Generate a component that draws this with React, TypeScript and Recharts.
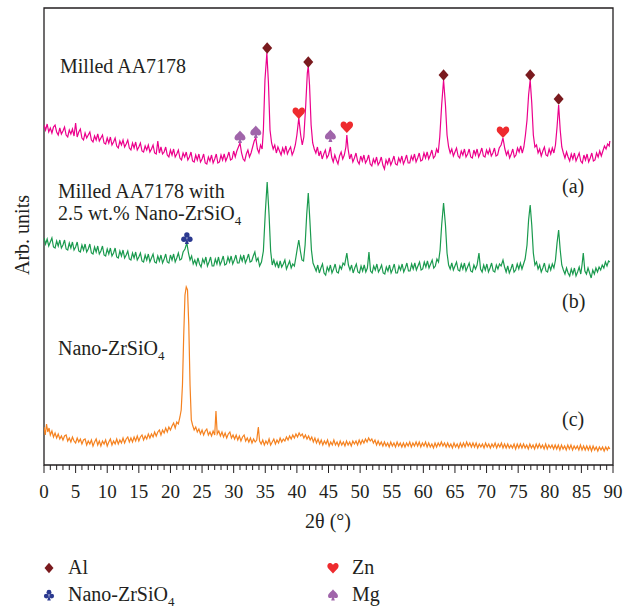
import { ComposedChart, Line, Scatter, XAxis, YAxis, ReferenceArea, Customized } from 'recharts'

// intensities are arbitrary units (traces are stacked with offsets)
const milledAA7178: [number, number][] = [
  [0, 340], [0.25, 335], [0.5, 341], [0.75, 333], [1, 337], [1.25, 332], [1.5, 338], [1.75, 340], [2, 333], [2.25, 330],
  [2.5, 337], [2.75, 331], [3, 334], [3.25, 338], [3.5, 330], [3.75, 328], [4, 335], [4.25, 331], [4.5, 336], [4.75, 329],
  [5, 342], [5.25, 328], [5.5, 333], [5.75, 336], [6, 327], [6.25, 325], [6.5, 332], [6.75, 327], [7, 330], [7.25, 333],
  [7.5, 325], [7.75, 323], [8, 329], [8.25, 325], [8.5, 331], [8.75, 324], [9, 327], [9.25, 330], [9.5, 322], [9.75, 321],
  [10, 327], [10.25, 322], [10.5, 328], [10.75, 320], [11, 323], [11.25, 327], [11.5, 319], [11.75, 317], [12, 324], [12.25, 320],
  [12.5, 325], [12.75, 318], [13, 321], [13.25, 325], [13.5, 317], [13.75, 315], [14, 322], [14.25, 317], [14.5, 323], [14.75, 315],
  [15, 318], [15.25, 322], [15.5, 314], [15.75, 313], [16, 319], [16.25, 315], [16.5, 320], [16.75, 313], [17, 316], [17.25, 320],
  [17.5, 312], [17.75, 311], [18, 324], [18.25, 312], [18.5, 318], [18.75, 311], [19, 313], [19.25, 318], [19.5, 310], [19.75, 308],
  [20, 315], [20.25, 310], [20.5, 316], [20.75, 308], [21, 311], [21.25, 315], [21.5, 307], [21.75, 305], [22, 312], [22.25, 308],
  [22.5, 313], [22.75, 305], [23, 308], [23.25, 313], [23.5, 304], [23.75, 303], [24, 310], [24.25, 305], [24.5, 311], [24.75, 303],
  [25, 306], [25.25, 311], [25.5, 302], [25.75, 301], [26, 308], [26.25, 304], [26.5, 310], [26.75, 302], [27, 306], [27.25, 311],
  [27.5, 302], [27.75, 303], [28, 310], [28.25, 305], [28.5, 311], [28.75, 304], [29, 308], [29.25, 313], [29.5, 305], [29.75, 306],
  [30, 314], [30.25, 308], [30.5, 314], [30.75, 318], [31, 322], [31.25, 312], [31.5, 306], [31.75, 304], [32, 311], [32.25, 315],
  [32.5, 308], [32.75, 312], [33, 318], [33.25, 324], [33.5, 327], [33.75, 316], [34, 312], [34.25, 320], [34.5, 316], [34.7, 335],
  [34.95, 385], [35.25, 412], [35.5, 382], [35.75, 335], [36, 322], [36.25, 316], [36.5, 320], [36.75, 312], [37, 318], [37.25, 314],
  [37.5, 310], [37.75, 317], [38, 312], [38.25, 319], [38.5, 311], [38.75, 315], [39, 318], [39.25, 310], [39.5, 314], [39.75, 320],
  [40, 330], [40.3, 347], [40.6, 330], [40.85, 320], [41.1, 328], [41.4, 360], [41.65, 392], [41.8, 399], [42, 380], [42.25, 340],
  [42.5, 322], [42.75, 316], [43, 312], [43.25, 318], [43.5, 309], [43.75, 314], [44, 306], [44.25, 311], [44.5, 315], [44.75, 307],
  [45, 310], [45.3, 318], [45.5, 308], [45.75, 303], [46, 310], [46.25, 305], [46.5, 301], [46.75, 309], [47, 313], [47.25, 306],
  [47.5, 310], [47.75, 318], [47.9, 330], [48.1, 316], [48.35, 306], [48.6, 311], [48.85, 303], [49.1, 307], [49.35, 312], [49.6, 304],
  [49.85, 301], [50.1, 309], [50.35, 304], [50.6, 310], [50.85, 302], [51.1, 305], [51.35, 310], [51.6, 301], [51.85, 299], [52.1, 306],
  [52.35, 302], [52.6, 308], [52.85, 300], [53.1, 303], [53.35, 308], [53.6, 300], [53.85, 296], [54.1, 305], [54.35, 301], [54.6, 307],
  [54.85, 300], [55.1, 304], [55.35, 309], [55.6, 301], [55.85, 300], [56.1, 307], [56.35, 303], [56.6, 309], [56.85, 301], [57.1, 305],
  [57.35, 310], [57.6, 302], [57.85, 302], [58.1, 309], [58.35, 305], [58.6, 311], [58.85, 303], [59.1, 307], [59.35, 312], [59.6, 304],
  [59.85, 305], [60.1, 312], [60.35, 307], [60.6, 313], [60.85, 306], [61.1, 310], [61.35, 315], [61.6, 307], [61.85, 309], [62.1, 316],
  [62.35, 312], [62.6, 328], [62.9, 360], [63.2, 385], [63.5, 360], [63.75, 330], [64, 318], [64.25, 312], [64.5, 316], [64.75, 309],
  [65, 313], [65.25, 317], [65.5, 309], [65.75, 307], [66, 314], [66.25, 310], [66.5, 316], [66.75, 308], [67, 311], [67.25, 316],
  [67.5, 308], [67.75, 307], [68, 315], [68.25, 310], [68.5, 316], [68.75, 308], [69, 312], [69.25, 317], [69.5, 309], [69.75, 308],
  [70, 315], [70.25, 311], [70.5, 316], [70.75, 309], [71, 312], [71.25, 317], [71.5, 309], [71.75, 310], [72, 317], [72.3, 320],
  [72.6, 327], [72.9, 316], [73.15, 310], [73.4, 314], [73.65, 307], [73.9, 311], [74.15, 316], [74.4, 308], [74.65, 310], [74.9, 317],
  [75.15, 313], [75.4, 319], [75.65, 312], [75.9, 318], [76.15, 330], [76.4, 345], [76.65, 370], [76.9, 385], [77.15, 362], [77.4, 330],
  [77.65, 318], [77.9, 320], [78.15, 312], [78.4, 316], [78.65, 309], [78.9, 314], [79.15, 318], [79.4, 310], [79.65, 309], [79.9, 316],
  [80.15, 311], [80.4, 317], [80.65, 312], [80.9, 320], [81.15, 338], [81.4, 360], [81.65, 335], [81.9, 318], [82.15, 312], [82.4, 307],
  [82.65, 313], [82.9, 308], [83.15, 304], [83.4, 311], [83.65, 306], [83.9, 312], [84.15, 304], [84.4, 308], [84.65, 312], [84.9, 304],
  [85.15, 302], [85.4, 310], [85.65, 305], [85.9, 311], [86.15, 303], [86.4, 307], [86.65, 312], [86.9, 304], [87.15, 305], [87.4, 312],
  [87.65, 308], [87.9, 314], [88.15, 309], [88.4, 314], [88.65, 319], [88.9, 316], [89.15, 321], [89.4, 319], [89.5, 324],
]

const milledWithZrSiO4: [number, number][] = [
  [0, 227], [0.25, 221], [0.5, 226], [0.75, 219], [1, 223], [1.25, 227], [1.5, 218], [1.75, 217], [2, 224], [2.25, 219],
  [2.5, 225], [2.75, 217], [3, 220], [3.25, 225], [3.5, 216], [3.75, 215], [4, 222], [4.25, 217], [4.5, 223], [4.75, 215],
  [5, 218], [5.25, 223], [5.5, 214], [5.75, 213], [6, 220], [6.25, 215], [6.5, 221], [6.75, 213], [7, 216], [7.25, 221],
  [7.5, 212], [7.75, 211], [8, 218], [8.25, 213], [8.5, 219], [8.75, 211], [9, 214], [9.25, 219], [9.5, 210], [9.75, 209],
  [10, 216], [10.25, 211], [10.5, 217], [10.75, 209], [11, 212], [11.25, 217], [11.5, 208], [11.75, 207], [12, 214], [12.25, 209],
  [12.5, 215], [12.75, 207], [13, 210], [13.25, 214], [13.5, 206], [13.75, 205], [14, 212], [14.25, 207], [14.5, 213], [14.75, 205],
  [15, 208], [15.25, 212], [15.5, 204], [15.75, 203], [16, 210], [16.25, 205], [16.5, 211], [16.75, 203], [17, 207], [17.25, 211],
  [17.5, 203], [17.75, 202], [18, 209], [18.25, 204], [18.5, 210], [18.75, 202], [19, 206], [19.25, 211], [19.5, 203], [19.75, 202],
  [20, 210], [20.25, 205], [20.5, 211], [20.75, 203], [21, 207], [21.25, 212], [21.5, 205], [21.75, 206], [22, 213], [22.3, 216],
  [22.6, 222], [22.85, 212], [23.1, 205], [23.35, 209], [23.6, 201], [23.85, 205], [24.1, 200], [24.35, 207], [24.6, 201], [24.85, 198],
  [25.1, 206], [25.35, 202], [25.6, 208], [25.85, 199], [26.1, 203], [26.35, 208], [26.6, 199], [26.85, 199], [27.1, 206], [27.35, 201],
  [27.6, 208], [27.85, 200], [28.1, 204], [28.35, 209], [28.6, 200], [28.85, 201], [29.1, 208], [29.35, 203], [29.6, 209], [29.85, 201],
  [30.1, 205], [30.35, 210], [30.6, 202], [30.85, 202], [31.1, 209], [31.35, 204], [31.6, 210], [31.85, 202], [32.1, 206], [32.35, 211],
  [32.6, 203], [32.85, 204], [33.1, 209], [33.35, 213], [33.6, 204], [33.85, 207], [34.1, 199], [34.4, 203], [34.7, 214], [35, 252],
  [35.3, 283], [35.6, 250], [35.85, 214], [36.1, 200], [36.35, 205], [36.6, 199], [36.85, 203], [37.1, 197], [37.35, 204], [37.6, 198],
  [37.85, 201], [38.1, 205], [38.35, 196], [38.6, 200], [38.85, 204], [39.1, 197], [39.35, 201], [39.6, 199], [39.85, 208], [40.05, 216],
  [40.3, 225], [40.55, 214], [40.8, 205], [41.05, 204], [41.3, 220], [41.55, 250], [41.8, 272], [42.05, 245], [42.3, 215], [42.55, 202],
  [42.8, 198], [43.05, 194], [43.3, 200], [43.55, 192], [43.8, 197], [44.05, 201], [44.3, 192], [44.55, 190], [44.8, 198], [45.05, 194],
  [45.3, 200], [45.55, 192], [45.8, 196], [46.05, 201], [46.3, 193], [46.55, 192], [46.8, 199], [47.05, 196], [47.3, 202], [47.55, 200],
  [47.9, 212], [48.15, 200], [48.4, 195], [48.65, 200], [48.9, 192], [49.15, 197], [49.4, 201], [49.65, 193], [49.9, 192], [50.15, 199],
  [50.4, 194], [50.65, 200], [50.9, 193], [51.15, 197], [51.4, 213], [51.65, 194], [51.9, 192], [52.15, 199], [52.4, 195], [52.65, 201],
  [52.9, 193], [53.15, 196], [53.4, 200], [53.65, 192], [53.9, 191], [54.15, 198], [54.4, 194], [54.65, 200], [54.9, 192], [55.15, 196],
  [55.4, 201], [55.65, 192], [55.9, 192], [56.15, 199], [56.4, 195], [56.65, 201], [56.9, 193], [57.15, 197], [57.4, 202], [57.65, 194],
  [57.9, 194], [58.15, 201], [58.4, 196], [58.65, 202], [58.9, 195], [59.15, 199], [59.4, 203], [59.65, 195], [59.9, 196], [60.15, 203],
  [60.4, 198], [60.65, 204], [60.9, 197], [61.15, 201], [61.4, 205], [61.65, 197], [61.9, 199], [62.15, 206], [62.4, 203], [62.65, 215],
  [62.9, 240], [63.2, 262], [63.5, 240], [63.75, 212], [64, 200], [64.25, 196], [64.5, 202], [64.75, 195], [65, 199], [65.25, 203],
  [65.5, 195], [65.75, 194], [66, 201], [66.25, 196], [66.5, 202], [66.75, 194], [67, 198], [67.25, 202], [67.5, 194], [67.75, 193],
  [68, 200], [68.25, 196], [68.5, 200], [68.8, 212], [69.05, 196], [69.3, 193], [69.55, 200], [69.8, 195], [70.05, 201], [70.3, 193],
  [70.55, 197], [70.8, 202], [71.05, 194], [71.3, 193], [71.55, 200], [71.8, 196], [72.05, 201], [72.3, 199], [72.6, 205], [72.85, 198],
  [73.1, 193], [73.35, 199], [73.6, 192], [73.85, 196], [74.1, 201], [74.35, 193], [74.6, 195], [74.85, 201], [75.1, 196], [75.35, 202],
  [75.6, 196], [75.85, 201], [76.1, 206], [76.4, 220], [76.65, 245], [76.9, 260], [77.15, 240], [77.4, 212], [77.65, 200], [77.9, 203],
  [78.15, 196], [78.4, 200], [78.65, 193], [78.9, 197], [79.15, 202], [79.4, 194], [79.65, 193], [79.9, 200], [80.15, 195], [80.4, 201],
  [80.65, 197], [80.9, 205], [81.15, 222], [81.4, 235], [81.65, 215], [81.9, 200], [82.15, 195], [82.4, 191], [82.65, 197], [82.9, 192],
  [83.15, 189], [83.4, 196], [83.65, 191], [83.9, 197], [84.15, 189], [84.4, 193], [84.65, 198], [84.9, 191], [85.1, 200], [85.3, 212],
  [85.55, 194], [85.8, 191], [86.05, 197], [86.3, 192], [86.55, 187], [86.8, 195], [87.05, 191], [87.3, 197], [87.55, 193], [87.8, 198],
  [88.05, 195], [88.3, 200], [88.55, 197], [88.8, 203], [89.05, 199], [89.3, 204], [89.5, 203],
]

const nanoZrSiO4: [number, number][] = [
  [0, 38], [0.2, 30], [0.4, 41], [0.6, 33], [0.8, 37], [1, 30], [1.25, 34], [1.5, 28], [1.75, 32], [2, 27],
  [2.25, 31], [2.5, 26], [2.75, 29], [3, 25], [3.25, 29], [3.5, 30], [3.75, 24], [4, 27], [4.25, 23], [4.5, 28],
  [4.75, 24], [5, 22], [5.25, 27], [5.5, 23], [5.75, 26], [6, 21], [6.25, 25], [6.5, 26], [6.75, 20], [7, 24],
  [7.25, 21], [7.5, 25], [7.75, 19], [8, 23], [8.25, 26], [8.5, 20], [8.75, 24], [9, 19], [9.25, 24], [9.5, 21],
  [9.75, 25], [10, 19], [10.25, 23], [10.5, 26], [10.75, 20], [11, 24], [11.25, 21], [11.5, 26], [11.75, 21], [12, 25],
  [12.25, 22], [12.5, 27], [12.75, 22], [13, 26], [13.25, 28], [13.5, 23], [13.75, 27], [14, 23], [14.25, 28], [14.5, 24],
  [14.75, 29], [15, 24], [15.25, 28], [15.5, 30], [15.75, 25], [16, 29], [16.25, 26], [16.5, 31], [16.75, 27], [17, 31],
  [17.25, 28], [17.5, 33], [17.75, 29], [18, 33], [18.25, 35], [18.5, 30], [18.75, 35], [19, 32], [19.25, 37], [19.5, 33],
  [19.75, 38], [20, 35], [20.25, 39], [20.5, 42], [20.75, 37], [21, 43], [21.25, 41], [21.5, 48], [21.7, 55], [21.9, 80],
  [22.1, 130], [22.3, 170], [22.5, 178], [22.7, 175], [22.9, 140], [23.1, 80], [23.3, 45], [23.5, 40], [23.75, 35], [24, 38],
  [24.25, 33], [24.5, 36], [24.75, 31], [25, 35], [25.25, 30], [25.5, 34], [25.75, 36], [26, 30], [26.25, 33], [26.5, 29],
  [26.75, 34], [27, 30], [27.2, 54], [27.4, 31], [27.65, 34], [27.9, 29], [28.15, 33], [28.4, 28], [28.65, 32], [28.9, 27],
  [29.15, 31], [29.4, 33], [29.65, 27], [29.9, 30], [30.15, 26], [30.4, 30], [30.65, 25], [30.9, 29], [31.15, 24], [31.4, 28],
  [31.65, 30], [31.9, 24], [32.15, 27], [32.4, 23], [32.65, 27], [32.9, 22], [33.15, 26], [33.4, 23], [33.65, 25], [33.9, 38],
  [34.1, 24], [34.35, 21], [34.6, 25], [34.85, 20], [35.1, 24], [35.35, 21], [35.6, 26], [35.85, 20], [36.1, 23], [36.35, 26],
  [36.6, 21], [36.85, 25], [37.1, 22], [37.35, 27], [37.6, 23], [37.85, 26], [38.1, 24], [38.35, 28], [38.6, 25], [38.85, 29],
  [39.1, 26], [39.35, 30], [39.6, 27], [39.85, 31], [40.1, 28], [40.35, 32], [40.6, 29], [40.85, 31], [41.1, 27], [41.35, 30],
  [41.6, 26], [41.85, 29], [42.1, 25], [42.35, 28], [42.6, 23], [42.85, 27], [43.1, 22], [43.35, 26], [43.6, 21], [43.85, 25],
  [44.1, 20], [44.35, 24], [44.6, 21], [44.85, 25], [45.1, 19], [45.35, 23], [45.6, 20], [45.85, 25], [46.1, 20], [46.35, 23],
  [46.6, 19], [46.85, 24], [47.1, 20], [47.35, 23], [47.6, 19], [47.85, 24], [48.1, 20], [48.35, 23], [48.6, 19], [48.85, 24],
  [49.1, 21], [49.35, 24], [49.6, 20], [49.85, 25], [50.1, 21], [50.35, 25], [50.6, 22], [50.85, 26], [51.1, 23], [51.35, 27],
  [51.6, 24], [51.85, 26], [52.1, 22], [52.35, 25], [52.6, 20], [52.85, 24], [53.1, 20], [53.35, 23], [53.6, 19], [53.85, 23],
  [54.1, 19], [54.35, 22], [54.6, 18], [54.85, 23], [55.1, 19], [55.35, 22], [55.6, 18], [55.85, 23], [56.1, 19], [56.35, 22],
  [56.6, 18], [56.85, 22], [57.1, 18], [57.35, 22], [57.6, 19], [57.85, 23], [58.1, 18], [58.35, 22], [58.6, 19], [58.85, 23],
  [59.1, 19], [59.35, 23], [59.6, 18], [59.85, 22], [60.1, 19], [60.35, 23], [60.6, 18], [60.85, 22], [61.1, 18], [61.35, 21],
  [61.6, 17], [61.85, 22], [62.1, 18], [62.35, 22], [62.6, 19], [62.85, 23], [63.1, 19], [63.35, 22], [63.6, 18], [63.85, 22],
  [64.1, 18], [64.35, 21], [64.6, 17], [64.85, 22], [65.1, 18], [65.35, 21], [65.6, 17], [65.85, 22], [66.1, 18], [66.35, 22],
  [66.6, 18], [66.85, 23], [67.1, 19], [67.35, 22], [67.6, 18], [67.85, 22], [68.1, 18], [68.35, 22], [68.6, 17], [68.85, 21],
  [69.1, 18], [69.35, 21], [69.6, 17], [69.85, 22], [70.1, 18], [70.35, 21], [70.6, 17], [70.85, 21], [71.1, 18], [71.35, 22],
  [71.6, 17], [71.85, 21], [72.1, 18], [72.35, 22], [72.6, 17], [72.85, 21], [73.1, 17], [73.35, 21], [73.6, 17], [73.85, 20],
  [74.1, 17], [74.35, 21], [74.6, 16], [74.85, 21], [75.1, 17], [75.35, 21], [75.6, 17], [75.85, 21], [76.1, 17], [76.35, 20],
  [76.6, 16], [76.85, 21], [77.1, 17], [77.35, 20], [77.6, 16], [77.85, 21], [78.1, 17], [78.35, 21], [78.6, 17], [78.85, 20],
  [79.1, 16], [79.35, 21], [79.6, 16], [79.85, 20], [80.1, 17], [80.35, 20], [80.6, 16], [80.85, 20], [81.1, 16], [81.35, 20],
  [81.6, 15], [81.85, 20], [82.1, 16], [82.35, 19], [82.6, 15], [82.85, 20], [83.1, 16], [83.35, 20], [83.6, 15], [83.85, 19],
  [84.1, 16], [84.35, 19], [84.6, 15], [84.85, 20], [85.1, 15], [85.35, 19], [85.6, 15], [85.85, 19], [86.1, 15], [86.35, 19],
  [86.6, 14], [86.85, 19], [87.1, 15], [87.35, 18], [87.6, 14], [87.85, 18], [88.1, 15], [88.35, 18], [88.6, 14], [88.85, 18],
  [89.1, 15], [89.3, 18], [89.5, 16],
]

// phase markers (angle, height of the symbol)
const alMarks: [number, number][] = [[35.3, 417], [41.8, 403], [63.2, 390], [76.9, 390], [81.4, 366]]
const znMarks: [number, number][] = [[40.3, 352], [47.9, 338], [72.6, 333]]
const mgMarks: [number, number][] = [[31, 328], [33.5, 333], [45.3, 329]]
const zrMarks: [number, number][] = [[22.6, 227]]

const xTicks = [
  0, 1, 2, 3, 4, 5, 6, 7, 8, 9, 10, 11, 12, 13, 14, 15, 16, 17, 18, 19, 20, 21, 22, 23, 24, 25, 26, 27, 28, 29, 30,
  31, 32, 33, 34, 35, 36, 37, 38, 39, 40, 41, 42, 43, 44, 45, 46, 47, 48, 49, 50, 51, 52, 53, 54, 55, 56, 57, 58, 59, 60,
  61, 62, 63, 64, 65, 66, 67, 68, 69, 70, 71, 72, 73, 74, 75, 76, 77, 78, 79, 80, 81, 82, 83, 84, 85, 86, 87, 88, 89, 90,
]

const FONT = '"Liberation Serif", "Times New Roman", serif'
const INK = '#231F20'
const PINK = '#EC008C'
const GREEN = '#1A9A4E'
const ORANGE = '#F58220'
const AL_COLOR = '#7A1A1E'
const ZN_COLOR = '#EE2B2E'
const MG_COLOR = '#A065AA'
const ZR_COLOR = '#2B3990'

const toRows = (pts: [number, number][]) => pts.map(([x, y]) => ({ x, y }))

const DIAMOND = 'M0,-5.8 L5,0 L0,5.8 L-5,0 Z'
const HEART =
  'M0,6 L-5.2,0.5 C-7,-1.5 -6.5,-5 -3.5,-5.5 C-1.8,-5.8 -0.5,-4.5 0,-3.2 C0.5,-4.5 1.8,-5.8 3.5,-5.5 C6.5,-5 7,-1.5 5.2,0.5 Z'
const SPADE =
  'M0,-6.5 C-1,-4.5 -5.5,-2 -5.5,1 C-5.5,3.3 -3,4.2 -1,2.8 L-2,6 L2,6 L1,2.8 C3,4.2 5.5,3.3 5.5,1 C5.5,-2 1,-4.5 0,-6.5 Z'

function Symbol({ kind, x, y, scale = 1 }: { kind: string; x: number; y: number; scale?: number }) {
  const t = `translate(${x},${y}) scale(${scale})`
  if (kind === 'al') return <path d={DIAMOND} transform={t} fill={AL_COLOR} />
  if (kind === 'zn') return <path d={HEART} transform={t} fill={ZN_COLOR} />
  if (kind === 'mg') return <path d={SPADE} transform={t} fill={MG_COLOR} />
  return (
    <g transform={t} fill={ZR_COLOR}>
      <circle cx={0} cy={-3} r={2.7} />
      <circle cx={-3} cy={1.2} r={2.7} />
      <circle cx={3} cy={1.2} r={2.7} />
      <path d="M0,0 L-2,6 L2,6 Z" />
    </g>
  )
}

const markerShape = (kind: string) => (props: any) => <Symbol kind={kind} x={props.cx} y={props.cy} />

function AxisTick({ x, y, payload }: any) {
  const major = payload.value % 5 === 0
  return (
    <g>
      <line x1={x} x2={x} y1={y} y2={y + (major ? 8 : 5)} stroke={INK} strokeWidth={1} />
      {major && (
        <text x={x} y={y + 33} textAnchor="middle" fontFamily={FONT} fontSize={19} fill={INK}>
          {payload.value}
        </text>
      )}
    </g>
  )
}

function Annotations() {
  const txt = { fontFamily: FONT, fontSize: 20, fill: INK }
  return (
    <g>
      <text x={60} y={73} {...txt}>Milled AA7178</text>
      <text x={58} y={198} {...txt}>Milled AA7178 with</text>
      <text x={58} y={220} {...txt}>
        2.5 wt.% Nano-ZrSiO<tspan fontSize={13} dy={5}>4</tspan>
      </text>
      <text x={58} y={355} {...txt}>
        Nano-ZrSiO<tspan fontSize={13} dy={5}>4</tspan>
      </text>
      <text x={562} y={193} {...txt}>(a)</text>
      <text x={562} y={308} {...txt}>(b)</text>
      <text x={562} y={426} {...txt}>(c)</text>
      <text x={22} y={235} textAnchor="middle" dominantBaseline="central" transform="rotate(-90, 22, 235)" {...txt}>
        Arb. units
      </text>
      <text x={328} y={528} textAnchor="middle" {...txt}>2θ (°)</text>

      {/* legend */}
      <Symbol kind="al" x={49} y={568} scale={0.9} />
      <text x={68} y={574} {...txt}>Al</text>
      <Symbol kind="zr" x={49} y={595} scale={0.9} />
      <text x={68} y={601} {...txt}>
        Nano-ZrSiO<tspan fontSize={13} dy={5}>4</tspan>
      </text>
      <Symbol kind="zn" x={333} y={568} scale={0.9} />
      <text x={352} y={574} {...txt}>Zn</text>
      <Symbol kind="mg" x={333} y={595} scale={0.9} />
      <text x={352} y={601} {...txt}>Mg</text>
    </g>
  )
}

export default function App() {
  return (
    <div style={{ position: 'absolute', left: 0, top: 0, width: 624, height: 609, background: '#fff' }}>
      <ComposedChart width={624} height={609} margin={{ top: 8, right: 11, left: 44, bottom: 84 }}>
        <XAxis
          dataKey="x"
          type="number"
          domain={[0, 90]}
          ticks={xTicks}
          interval={0}
          tick={<AxisTick />}
          tickSize={0}
          tickMargin={0}
          tickLine={false}
          axisLine={false}
          height={60}
          allowDataOverflow
        />
        <YAxis type="number" domain={[0, 457]} hide allowDataOverflow />
        <ReferenceArea x1={0} x2={90} y1={0} y2={457} fill="none" fillOpacity={0} stroke={INK} strokeWidth={1.3} ifOverflow="visible" />

        <Line data={toRows(milledAA7178)} dataKey="y" stroke={PINK} strokeWidth={1.2} dot={false} isAnimationActive={false} />
        <Line data={toRows(milledWithZrSiO4)} dataKey="y" stroke={GREEN} strokeWidth={1.2} dot={false} isAnimationActive={false} />
        <Line data={toRows(nanoZrSiO4)} dataKey="y" stroke={ORANGE} strokeWidth={1.2} dot={false} isAnimationActive={false} />

        <Scatter data={toRows(alMarks)} dataKey="y" shape={markerShape('al')} isAnimationActive={false} />
        <Scatter data={toRows(znMarks)} dataKey="y" shape={markerShape('zn')} isAnimationActive={false} />
        <Scatter data={toRows(mgMarks)} dataKey="y" shape={markerShape('mg')} isAnimationActive={false} />
        <Scatter data={toRows(zrMarks)} dataKey="y" shape={markerShape('zr')} isAnimationActive={false} />

        <Customized component={Annotations} />
      </ComposedChart>
    </div>
  )
}
